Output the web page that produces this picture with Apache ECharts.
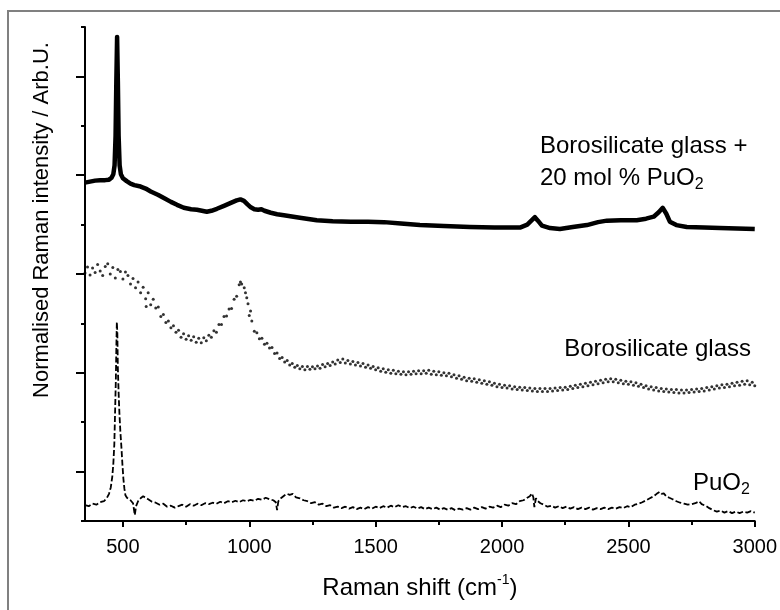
<!DOCTYPE html>
<html>
<head>
<meta charset="utf-8">
<script src="https://cdn.jsdelivr.net/npm/echarts@6/dist/echarts.min.js"></script>
<style>
  html, body { margin: 0; padding: 0; background: #fff; }
  #container { width: 780px; height: 610px; }
</style>
</head>
<body>
<div id="container"></div>
<script>
// Raman spectra, x = Raman shift (cm-1), y = normalised intensity (stacked, arb. units)

var xMajorTicks = [500, 1000, 1500, 2000, 2500, 3000];
var xMinorTicks = [750, 1250, 1750, 2250, 2750];
var yMajorTicks = [1, 3, 5, 7, 9];

// Borosilicate glass + 20 mol % PuO2 (thick solid line)
var glassPuO2 = [
    [350, 6.85], [370, 6.87], [390, 6.89], [410, 6.90], [430, 6.90], [445, 6.91], [455, 6.95],
    [462, 7.02], [467, 7.20], [471, 7.80], [474, 8.90], [477, 9.80], [480, 8.90], [483, 7.80],
    [487, 7.20], [492, 7.02], [500, 6.94], [515, 6.88], [530, 6.83], [545, 6.80], [570, 6.77],
    [590, 6.73], [610, 6.67], [640, 6.60], [662, 6.54], [690, 6.46], [714, 6.40], [741, 6.34],
    [770, 6.31], [793, 6.30], [832, 6.26], [850, 6.28], [872, 6.32], [900, 6.38], [927, 6.44],
    [950, 6.49], [965, 6.51], [979, 6.48], [993, 6.41], [1006, 6.35], [1020, 6.31], [1035, 6.30],
    [1048, 6.31], [1060, 6.28], [1085, 6.24], [1110, 6.21], [1137, 6.19], [1200, 6.14],
    [1267, 6.09], [1330, 6.07], [1402, 6.06], [1470, 6.06], [1533, 6.05], [1600, 6.02],
    [1675, 5.99], [1770, 5.97], [1873, 5.95], [1970, 5.94], [2071, 5.94], [2100, 6.00],
    [2118, 6.09], [2130, 6.15], [2142, 6.08], [2158, 5.98], [2190, 5.93], [2229, 5.91],
    [2280, 5.95], [2336, 5.99], [2380, 6.05], [2415, 6.08], [2470, 6.09], [2533, 6.09],
    [2570, 6.12], [2600, 6.16], [2620, 6.25], [2636, 6.34], [2650, 6.22], [2664, 6.06],
    [2690, 5.99], [2731, 5.95], [2800, 5.94], [2862, 5.93], [2930, 5.92], [3000, 5.91]
];

// Borosilicate glass (scattered points)
var glass = [
    [350, 5.02], [360, 5.14], [370, 4.98], [380, 5.12], [390, 5.03], [400, 5.19], [410, 5.06],
    [420, 4.97], [430, 5.15], [440, 5.21], [450, 5.00], [460, 5.13], [470, 4.92], [480, 5.09],
    [490, 5.05], [500, 4.90], [510, 5.04], [520, 4.97], [530, 4.80], [540, 4.91], [550, 4.72],
    [560, 4.84], [570, 4.62], [580, 4.73], [590, 4.50], [592, 4.34], [600, 4.62], [610, 4.38],
    [620, 4.49], [630, 4.31], [640, 4.33], [650, 4.14], [660, 4.18], [670, 4.02], [680, 4.05],
    [690, 3.91], [700, 3.95], [710, 3.82], [720, 3.86], [730, 3.72], [740, 3.79], [750, 3.68],
    [760, 3.75], [770, 3.66], [780, 3.73], [790, 3.62], [800, 3.70], [810, 3.61], [820, 3.71],
    [830, 3.65], [840, 3.76], [850, 3.72], [860, 3.85], [870, 3.82], [880, 3.98], [890, 3.98],
    [900, 4.14], [910, 4.15], [920, 4.29], [930, 4.30], [940, 4.49], [950, 4.55], [960, 4.78],
    [965, 4.84], [970, 4.80], [980, 4.72], [985, 4.62], [990, 4.52], [995, 4.40], [1000, 4.16],
    [1005, 4.25], [1010, 4.05], [1020, 3.84], [1030, 3.81], [1040, 3.69], [1050, 3.70],
    [1060, 3.58], [1070, 3.60], [1080, 3.50], [1090, 3.51], [1100, 3.39], [1110, 3.40],
    [1120, 3.29], [1130, 3.31], [1140, 3.22], [1150, 3.25], [1160, 3.16], [1170, 3.19],
    [1180, 3.11], [1190, 3.15], [1200, 3.08], [1210, 3.13], [1220, 3.06], [1230, 3.13],
    [1240, 3.07], [1250, 3.12], [1260, 3.08], [1270, 3.14], [1280, 3.09], [1290, 3.17],
    [1300, 3.12], [1310, 3.19], [1320, 3.15], [1330, 3.22], [1340, 3.18], [1350, 3.26],
    [1360, 3.21], [1370, 3.28], [1380, 3.20], [1390, 3.25], [1400, 3.18], [1410, 3.23],
    [1420, 3.16], [1430, 3.21], [1440, 3.14], [1450, 3.19], [1460, 3.11], [1470, 3.16],
    [1480, 3.09], [1490, 3.13], [1500, 3.06], [1510, 3.10], [1520, 3.03], [1530, 3.08],
    [1540, 3.01], [1550, 3.06], [1560, 2.99], [1570, 3.05], [1580, 2.98], [1590, 3.03],
    [1600, 2.97], [1610, 3.02], [1620, 2.96], [1630, 3.02], [1640, 2.97], [1650, 3.03],
    [1660, 2.98], [1670, 3.04], [1680, 2.98], [1690, 3.04], [1700, 2.99], [1710, 3.05],
    [1720, 2.97], [1730, 3.03], [1740, 2.96], [1750, 3.02], [1760, 2.95], [1770, 3.00],
    [1780, 2.94], [1790, 2.99], [1800, 2.92], [1810, 2.96], [1820, 2.89], [1830, 2.94],
    [1840, 2.87], [1850, 2.91], [1860, 2.84], [1870, 2.89], [1880, 2.83], [1890, 2.88],
    [1900, 2.81], [1910, 2.86], [1920, 2.79], [1930, 2.84], [1940, 2.77], [1950, 2.82],
    [1960, 2.75], [1970, 2.79], [1980, 2.72], [1990, 2.77], [2000, 2.70], [2010, 2.75],
    [2020, 2.69], [2030, 2.74], [2040, 2.67], [2050, 2.72], [2060, 2.66], [2070, 2.71],
    [2080, 2.65], [2090, 2.70], [2100, 2.64], [2110, 2.69], [2120, 2.63], [2130, 2.68],
    [2140, 2.62], [2150, 2.68], [2160, 2.62], [2170, 2.68], [2180, 2.62], [2190, 2.68],
    [2200, 2.63], [2210, 2.69], [2220, 2.64], [2230, 2.70], [2240, 2.65], [2250, 2.71],
    [2260, 2.66], [2270, 2.73], [2280, 2.68], [2290, 2.75], [2300, 2.70], [2310, 2.77],
    [2320, 2.72], [2330, 2.79], [2340, 2.74], [2350, 2.81], [2360, 2.76], [2370, 2.83],
    [2380, 2.78], [2390, 2.85], [2400, 2.80], [2410, 2.87], [2420, 2.82], [2430, 2.88],
    [2440, 2.82], [2450, 2.87], [2460, 2.80], [2470, 2.85], [2480, 2.78], [2490, 2.83],
    [2500, 2.77], [2510, 2.82], [2520, 2.75], [2530, 2.80], [2540, 2.73], [2550, 2.77],
    [2560, 2.70], [2570, 2.74], [2580, 2.67], [2590, 2.72], [2600, 2.65], [2610, 2.70],
    [2620, 2.63], [2630, 2.68], [2640, 2.62], [2650, 2.67], [2660, 2.61], [2670, 2.66],
    [2680, 2.60], [2690, 2.66], [2700, 2.59], [2710, 2.65], [2720, 2.59], [2730, 2.65],
    [2740, 2.60], [2750, 2.66], [2760, 2.61], [2770, 2.67], [2780, 2.62], [2790, 2.68],
    [2800, 2.63], [2810, 2.70], [2820, 2.65], [2830, 2.72], [2840, 2.67], [2850, 2.74],
    [2860, 2.69], [2870, 2.76], [2880, 2.70], [2890, 2.77], [2900, 2.72], [2910, 2.79],
    [2920, 2.74], [2930, 2.81], [2940, 2.75], [2950, 2.83], [2960, 2.77], [2970, 2.84],
    [2980, 2.76], [2990, 2.81], [3000, 2.74]
];

// PuO2 (dashed line)
var puo2 = [
    [350, 0.32], [365, 0.30], [380, 0.35], [395, 0.33], [410, 0.38], [425, 0.40], [437, 0.47],
    [445, 0.55], [452, 0.68], [458, 0.90], [462, 1.15], [466, 1.55], [469, 2.20], [472, 2.85],
    [474, 3.50], [476, 4.03], [478, 3.80], [480, 3.10], [483, 2.60], [486, 2.20], [490, 1.80],
    [494, 1.50], [498, 1.15], [502, 0.85], [506, 0.65], [510, 0.52], [516, 0.47], [522, 0.45],
    [530, 0.42], [540, 0.36], [547, 0.12], [552, 0.30], [560, 0.40], [570, 0.46], [580, 0.50],
    [590, 0.47], [600, 0.44], [615, 0.39], [630, 0.37], [645, 0.33], [660, 0.35], [675, 0.29],
    [690, 0.31], [705, 0.27], [720, 0.30], [735, 0.33], [750, 0.29], [765, 0.34], [780, 0.31],
    [795, 0.35], [810, 0.32], [825, 0.36], [840, 0.34], [855, 0.37], [870, 0.35], [885, 0.39],
    [900, 0.36], [915, 0.40], [930, 0.38], [945, 0.41], [960, 0.38], [975, 0.42], [990, 0.40],
    [1005, 0.43], [1020, 0.41], [1035, 0.45], [1050, 0.43], [1065, 0.47], [1080, 0.44],
    [1095, 0.42], [1105, 0.38], [1110, 0.22], [1115, 0.40], [1125, 0.46], [1140, 0.52],
    [1150, 0.55], [1160, 0.53], [1172, 0.55], [1185, 0.48], [1200, 0.46], [1215, 0.42],
    [1230, 0.40], [1245, 0.36], [1260, 0.38], [1275, 0.33], [1290, 0.35], [1305, 0.30],
    [1320, 0.32], [1335, 0.27], [1350, 0.29], [1365, 0.26], [1380, 0.29], [1395, 0.25],
    [1410, 0.28], [1425, 0.24], [1440, 0.27], [1455, 0.24], [1470, 0.28], [1485, 0.25],
    [1500, 0.29], [1515, 0.26], [1530, 0.30], [1545, 0.27], [1560, 0.31], [1575, 0.28],
    [1590, 0.32], [1605, 0.28], [1620, 0.30], [1635, 0.26], [1650, 0.29], [1665, 0.25],
    [1680, 0.28], [1695, 0.24], [1710, 0.27], [1725, 0.24], [1740, 0.27], [1755, 0.23],
    [1770, 0.26], [1785, 0.23], [1800, 0.26], [1815, 0.22], [1830, 0.25], [1845, 0.23],
    [1860, 0.26], [1875, 0.23], [1890, 0.27], [1905, 0.24], [1920, 0.28], [1935, 0.25],
    [1950, 0.29], [1965, 0.27], [1980, 0.31], [1995, 0.28], [2010, 0.33], [2025, 0.31],
    [2040, 0.36], [2055, 0.34], [2070, 0.40], [2085, 0.42], [2100, 0.47], [2110, 0.50],
    [2118, 0.56], [2124, 0.48], [2128, 0.28], [2134, 0.46], [2142, 0.40], [2152, 0.36],
    [2165, 0.33], [2180, 0.29], [2195, 0.31], [2210, 0.27], [2225, 0.30], [2240, 0.26],
    [2255, 0.29], [2270, 0.25], [2285, 0.28], [2300, 0.24], [2315, 0.27], [2330, 0.24],
    [2345, 0.27], [2360, 0.23], [2375, 0.26], [2390, 0.24], [2405, 0.27], [2420, 0.24],
    [2435, 0.27], [2450, 0.25], [2465, 0.28], [2480, 0.26], [2495, 0.30], [2510, 0.28],
    [2525, 0.33], [2540, 0.35], [2555, 0.38], [2570, 0.42], [2585, 0.46], [2600, 0.50],
    [2612, 0.55], [2624, 0.59], [2632, 0.55], [2640, 0.56], [2650, 0.50], [2662, 0.47],
    [2675, 0.44], [2690, 0.40], [2705, 0.37], [2720, 0.35], [2735, 0.33], [2750, 0.34],
    [2765, 0.36], [2780, 0.40], [2790, 0.34], [2805, 0.31], [2820, 0.26], [2835, 0.22],
    [2850, 0.19], [2865, 0.21], [2880, 0.17], [2895, 0.20], [2910, 0.16], [2925, 0.19],
    [2940, 0.16], [2955, 0.19], [2970, 0.17], [2985, 0.20], [3000, 0.17]
];

var fontFamily = '"Liberation Sans", Arial, sans-serif';

var chartDom = document.getElementById('container');
var myChart = echarts.init(chartDom, null, { renderer: 'canvas' });

var option = {
    animation: false,
    backgroundColor: '#fff',
    textStyle: { fontFamily: fontFamily, color: '#000' },
    grid: { left: 85, right: 25, top: 27, bottom: 89 },
    xAxis: [
        {
            type: 'value',
            position: 'bottom',
            min: 350,
            max: 3000,
            name: 'Raman shift (cm{sup|-1})',
            nameLocation: 'middle',
            nameGap: 52,
            nameTextStyle: {
                fontSize: 24,
                lineHeight: 30,
                color: '#000',
                fontFamily: fontFamily,
                rich: {
                    sup: { fontSize: 14, lineHeight: 16, verticalAlign: 'top', color: '#000', fontFamily: fontFamily }
                }
            },
            axisLine: { lineStyle: { color: '#000', width: 2 } },
            axisTick: { customValues: xMajorTicks, length: 6, lineStyle: { color: '#000', width: 2 } },
            axisLabel: {
                customValues: xMajorTicks,
                fontSize: 20,
                margin: 16,
                color: '#000',
                formatter: function (v) { return String(v); }
            },
            splitLine: { show: false }
        },
        {
            type: 'value',
            position: 'bottom',
            min: 350,
            max: 3000,
            axisLine: { show: false },
            axisTick: { customValues: xMinorTicks, length: 4, lineStyle: { color: '#000', width: 2 } },
            axisLabel: { show: false },
            splitLine: { show: false }
        }
    ],
    yAxis: [
        {
            type: 'value',
            position: 'left',
            min: 0,
            max: 10,
            interval: 1,
            axisLine: { show: true, lineStyle: { color: '#000', width: 2 } },
            axisTick: { show: true, length: 4, lineStyle: { color: '#000', width: 2 } },
            axisLabel: { show: false },
            splitLine: { show: false }
        },
        {
            type: 'value',
            position: 'left',
            min: 0,
            max: 10,
            axisLine: { show: false },
            axisTick: { show: true, customValues: yMajorTicks, length: 9, lineStyle: { color: '#000', width: 2 } },
            axisLabel: { show: false },
            splitLine: { show: false }
        }
    ],
    series: [
        {
            name: 'PuO2',
            type: 'line',
            data: puo2,
            showSymbol: false,
            lineStyle: { color: '#000', width: 1.8, type: [6, 2.5] },
            z: 2
        },
        {
            name: 'Borosilicate glass',
            type: 'scatter',
            data: glass,
            symbolSize: 3,
            itemStyle: { color: '#000' },
            z: 2
        },
        {
            name: 'Borosilicate glass + 20 mol % PuO2',
            type: 'line',
            data: glassPuO2,
            showSymbol: false,
            lineStyle: { color: '#000', width: 4.5, join: 'round' },
            z: 3
        }
    ],
    graphic: [
        {
            type: 'rect',
            shape: { x: 8, y: 11, width: 1000, height: 1000 },
            style: { fill: 'none', stroke: '#808080', lineWidth: 2 },
            silent: true
        },
        {
            type: 'text',
            x: 42,
            y: 220,
            rotation: Math.PI / 2,
            style: {
                text: 'Normalised Raman intensity / Arb.U.',
                font: '22px ' + fontFamily,
                fill: '#000',
                align: 'center',
                verticalAlign: 'middle'
            }
        },
        {
            type: 'text',
            x: 540,
            y: 146,
            style: {
                text: 'Borosilicate glass +',
                font: '24px ' + fontFamily,
                fill: '#000',
                align: 'left',
                verticalAlign: 'middle'
            }
        },
        {
            type: 'text',
            x: 540,
            y: 178,
            style: {
                text: '20 mol % PuO{sub|2}',
                font: '24px ' + fontFamily,
                fill: '#000',
                lineHeight: 30,
                align: 'left',
                verticalAlign: 'middle',
                rich: {
                    sub: { fontSize: 16, lineHeight: 14, verticalAlign: 'bottom', fontFamily: fontFamily }
                }
            }
        },
        {
            type: 'text',
            x: 751,
            y: 349,
            style: {
                text: 'Borosilicate glass',
                font: '24px ' + fontFamily,
                fill: '#000',
                align: 'right',
                verticalAlign: 'middle'
            }
        },
        {
            type: 'text',
            x: 693,
            y: 483,
            style: {
                text: 'PuO{sub|2}',
                font: '24px ' + fontFamily,
                fill: '#000',
                lineHeight: 30,
                align: 'left',
                verticalAlign: 'middle',
                rich: {
                    sub: { fontSize: 16, lineHeight: 14, verticalAlign: 'bottom', fontFamily: fontFamily }
                }
            }
        }
    ]
};

myChart.setOption(option);
window.addEventListener('resize', myChart.resize);
</script>
</body>
</html>
